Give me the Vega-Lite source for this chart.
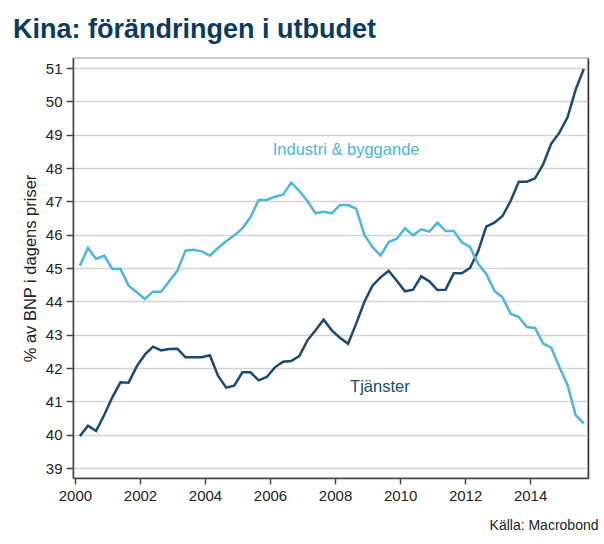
{
  "$schema": "https://vega.github.io/schema/vega-lite/v6.json",
  "width": 515,
  "height": 420,
  "autosize": {"type": "none"},
  "padding": {"left": 73, "top": 58, "right": 16, "bottom": 66},
  "background": "white",
  "config": {
    "font": "Liberation Sans",
    "view": {"stroke": "#b8b8b8", "strokeWidth": 1.5}
  },
  "title": {
    "text": "Kina: förändringen i utbudet",
    "anchor": "start",
    "frame": "group",
    "dx": -60,
    "dy": 27,
    "offset": 20,
    "baseline": "alphabetic",
    "fontSize": 27,
    "fontWeight": "bold",
    "color": "#0d3a5f"
  },
  "datasets": {
    "series": [
      {"t": 2000.15, "serie": "Tjänster", "v": 39.95},
      {"t": 2000.40, "serie": "Tjänster", "v": 40.27},
      {"t": 2000.65, "serie": "Tjänster", "v": 40.11},
      {"t": 2000.90, "serie": "Tjänster", "v": 40.59},
      {"t": 2001.15, "serie": "Tjänster", "v": 41.12},
      {"t": 2001.40, "serie": "Tjänster", "v": 41.57},
      {"t": 2001.65, "serie": "Tjänster", "v": 41.56},
      {"t": 2001.90, "serie": "Tjänster", "v": 42.05},
      {"t": 2002.15, "serie": "Tjänster", "v": 42.40},
      {"t": 2002.40, "serie": "Tjänster", "v": 42.64},
      {"t": 2002.65, "serie": "Tjänster", "v": 42.53},
      {"t": 2002.90, "serie": "Tjänster", "v": 42.57},
      {"t": 2003.15, "serie": "Tjänster", "v": 42.58},
      {"t": 2003.40, "serie": "Tjänster", "v": 42.32},
      {"t": 2003.65, "serie": "Tjänster", "v": 42.32},
      {"t": 2003.90, "serie": "Tjänster", "v": 42.32},
      {"t": 2004.15, "serie": "Tjänster", "v": 42.38},
      {"t": 2004.40, "serie": "Tjänster", "v": 41.77},
      {"t": 2004.65, "serie": "Tjänster", "v": 41.41},
      {"t": 2004.90, "serie": "Tjänster", "v": 41.47},
      {"t": 2005.15, "serie": "Tjänster", "v": 41.87},
      {"t": 2005.40, "serie": "Tjänster", "v": 41.87},
      {"t": 2005.65, "serie": "Tjänster", "v": 41.63},
      {"t": 2005.90, "serie": "Tjänster", "v": 41.73},
      {"t": 2006.15, "serie": "Tjänster", "v": 42.02},
      {"t": 2006.40, "serie": "Tjänster", "v": 42.19},
      {"t": 2006.65, "serie": "Tjänster", "v": 42.21},
      {"t": 2006.90, "serie": "Tjänster", "v": 42.36},
      {"t": 2007.15, "serie": "Tjänster", "v": 42.83},
      {"t": 2007.40, "serie": "Tjänster", "v": 43.13},
      {"t": 2007.65, "serie": "Tjänster", "v": 43.45},
      {"t": 2007.90, "serie": "Tjänster", "v": 43.13},
      {"t": 2008.15, "serie": "Tjänster", "v": 42.91},
      {"t": 2008.40, "serie": "Tjänster", "v": 42.73},
      {"t": 2008.65, "serie": "Tjänster", "v": 43.33},
      {"t": 2008.90, "serie": "Tjänster", "v": 43.98},
      {"t": 2009.15, "serie": "Tjänster", "v": 44.47},
      {"t": 2009.40, "serie": "Tjänster", "v": 44.72},
      {"t": 2009.65, "serie": "Tjänster", "v": 44.92},
      {"t": 2009.90, "serie": "Tjänster", "v": 44.62},
      {"t": 2010.15, "serie": "Tjänster", "v": 44.30},
      {"t": 2010.40, "serie": "Tjänster", "v": 44.35},
      {"t": 2010.65, "serie": "Tjänster", "v": 44.75},
      {"t": 2010.90, "serie": "Tjänster", "v": 44.60},
      {"t": 2011.15, "serie": "Tjänster", "v": 44.34},
      {"t": 2011.40, "serie": "Tjänster", "v": 44.35},
      {"t": 2011.65, "serie": "Tjänster", "v": 44.84},
      {"t": 2011.90, "serie": "Tjänster", "v": 44.84},
      {"t": 2012.15, "serie": "Tjänster", "v": 45.00},
      {"t": 2012.40, "serie": "Tjänster", "v": 45.50},
      {"t": 2012.65, "serie": "Tjänster", "v": 46.24},
      {"t": 2012.90, "serie": "Tjänster", "v": 46.36},
      {"t": 2013.15, "serie": "Tjänster", "v": 46.56},
      {"t": 2013.40, "serie": "Tjänster", "v": 47.01},
      {"t": 2013.65, "serie": "Tjänster", "v": 47.59},
      {"t": 2013.90, "serie": "Tjänster", "v": 47.59},
      {"t": 2014.15, "serie": "Tjänster", "v": 47.69},
      {"t": 2014.40, "serie": "Tjänster", "v": 48.11},
      {"t": 2014.65, "serie": "Tjänster", "v": 48.73},
      {"t": 2014.90, "serie": "Tjänster", "v": 49.06},
      {"t": 2015.15, "serie": "Tjänster", "v": 49.52},
      {"t": 2015.40, "serie": "Tjänster", "v": 50.35},
      {"t": 2015.65, "serie": "Tjänster", "v": 50.97},
      {"t": 2000.15, "serie": "Industri & byggande", "v": 45.07},
      {"t": 2000.40, "serie": "Industri & byggande", "v": 45.60},
      {"t": 2000.65, "serie": "Industri & byggande", "v": 45.27},
      {"t": 2000.90, "serie": "Industri & byggande", "v": 45.37},
      {"t": 2001.15, "serie": "Industri & byggande", "v": 44.97},
      {"t": 2001.40, "serie": "Industri & byggande", "v": 44.97},
      {"t": 2001.65, "serie": "Industri & byggande", "v": 44.47},
      {"t": 2001.90, "serie": "Industri & byggande", "v": 44.27},
      {"t": 2002.15, "serie": "Industri & byggande", "v": 44.07},
      {"t": 2002.40, "serie": "Industri & byggande", "v": 44.29},
      {"t": 2002.65, "serie": "Industri & byggande", "v": 44.29},
      {"t": 2002.90, "serie": "Industri & byggande", "v": 44.60},
      {"t": 2003.15, "serie": "Industri & byggande", "v": 44.92},
      {"t": 2003.40, "serie": "Industri & byggande", "v": 45.52},
      {"t": 2003.65, "serie": "Industri & byggande", "v": 45.55},
      {"t": 2003.90, "serie": "Industri & byggande", "v": 45.50},
      {"t": 2004.15, "serie": "Industri & byggande", "v": 45.37},
      {"t": 2004.40, "serie": "Industri & byggande", "v": 45.60},
      {"t": 2004.65, "serie": "Industri & byggande", "v": 45.80},
      {"t": 2004.90, "serie": "Industri & byggande", "v": 45.98},
      {"t": 2005.15, "serie": "Industri & byggande", "v": 46.19},
      {"t": 2005.40, "serie": "Industri & byggande", "v": 46.53},
      {"t": 2005.65, "serie": "Industri & byggande", "v": 47.04},
      {"t": 2005.90, "serie": "Industri & byggande", "v": 47.04},
      {"t": 2006.15, "serie": "Industri & byggande", "v": 47.14},
      {"t": 2006.40, "serie": "Industri & byggande", "v": 47.20},
      {"t": 2006.65, "serie": "Industri & byggande", "v": 47.56},
      {"t": 2006.90, "serie": "Industri & byggande", "v": 47.31},
      {"t": 2007.15, "serie": "Industri & byggande", "v": 47.01},
      {"t": 2007.40, "serie": "Industri & byggande", "v": 46.64},
      {"t": 2007.65, "serie": "Industri & byggande", "v": 46.69},
      {"t": 2007.90, "serie": "Industri & byggande", "v": 46.64},
      {"t": 2008.15, "serie": "Industri & byggande", "v": 46.89},
      {"t": 2008.40, "serie": "Industri & byggande", "v": 46.89},
      {"t": 2008.65, "serie": "Industri & byggande", "v": 46.78},
      {"t": 2008.90, "serie": "Industri & byggande", "v": 46.00},
      {"t": 2009.15, "serie": "Industri & byggande", "v": 45.63},
      {"t": 2009.40, "serie": "Industri & byggande", "v": 45.37},
      {"t": 2009.65, "serie": "Industri & byggande", "v": 45.78},
      {"t": 2009.90, "serie": "Industri & byggande", "v": 45.88},
      {"t": 2010.15, "serie": "Industri & byggande", "v": 46.19},
      {"t": 2010.40, "serie": "Industri & byggande", "v": 45.98},
      {"t": 2010.65, "serie": "Industri & byggande", "v": 46.16},
      {"t": 2010.90, "serie": "Industri & byggande", "v": 46.09},
      {"t": 2011.15, "serie": "Industri & byggande", "v": 46.36},
      {"t": 2011.40, "serie": "Industri & byggande", "v": 46.11},
      {"t": 2011.65, "serie": "Industri & byggande", "v": 46.11},
      {"t": 2011.90, "serie": "Industri & byggande", "v": 45.77},
      {"t": 2012.15, "serie": "Industri & byggande", "v": 45.63},
      {"t": 2012.40, "serie": "Industri & byggande", "v": 45.13},
      {"t": 2012.65, "serie": "Industri & byggande", "v": 44.82},
      {"t": 2012.90, "serie": "Industri & byggande", "v": 44.32},
      {"t": 2013.15, "serie": "Industri & byggande", "v": 44.12},
      {"t": 2013.40, "serie": "Industri & byggande", "v": 43.63},
      {"t": 2013.65, "serie": "Industri & byggande", "v": 43.53},
      {"t": 2013.90, "serie": "Industri & byggande", "v": 43.23},
      {"t": 2014.15, "serie": "Industri & byggande", "v": 43.20},
      {"t": 2014.40, "serie": "Industri & byggande", "v": 42.73},
      {"t": 2014.65, "serie": "Industri & byggande", "v": 42.61},
      {"t": 2014.90, "serie": "Industri & byggande", "v": 42.03},
      {"t": 2015.15, "serie": "Industri & byggande", "v": 41.49},
      {"t": 2015.40, "serie": "Industri & byggande", "v": 40.59},
      {"t": 2015.65, "serie": "Industri & byggande", "v": 40.34}
    ],
    "labels": [
      {"t": 2008.34, "v": 48.54, "serie": "Industri & byggande", "label": "Industri & byggande"},
      {"t": 2009.38, "v": 41.43, "serie": "Tjänster", "label": "Tjänster"}
    ]
  },
  "resolve": {"axis": {"y": "independent"}},
  "layer": [
    {
      "data": {"name": "series"},
      "mark": {"type": "line", "strokeWidth": 2.5, "strokeJoin": "miter", "interpolate": "linear"},
      "encoding": {
        "x": {
          "field": "t",
          "type": "quantitative",
          "scale": {"domain": [1999.94, 2015.78], "nice": false, "zero": false},
          "axis": {
            "values": [2000, 2002, 2004, 2006, 2008, 2010, 2012, 2014],
            "format": "d",
            "grid": false,
            "domainColor": "#444",
            "domainWidth": 1.5,
            "tickColor": "#444",
            "tickWidth": 1.5,
            "tickSize": 6,
            "labelFontSize": 15,
            "labelColor": "#222",
            "labelPadding": 4,
            "title": "Källa: Macrobond",
            "titleFontSize": 14,
            "titleFontWeight": "normal",
            "titleColor": "#222",
            "titleAnchor": "end",
            "titleAlign": "right",
            "titleBaseline": "alphabetic",
            "titleX": 525,
            "titleY": 51
          }
        },
        "y": {
          "field": "v",
          "type": "quantitative",
          "scale": {"domain": [38.7, 51.3], "nice": false, "zero": false},
          "axis": {
            "orient": "left",
            "values": [39, 40, 41, 42, 43, 44, 45, 46, 47, 48, 49, 50, 51],
            "grid": true,
            "gridColor": "#d3d3d3",
            "gridWidth": 1.5,
            "domainColor": "#444",
            "domainWidth": 1.5,
            "tickColor": "#444",
            "tickWidth": 1.5,
            "tickSize": 7,
            "labelFontSize": 15,
            "labelColor": "#222",
            "labelPadding": 4,
            "title": "% av BNP i dagens priser",
            "titleFontSize": 16.5,
            "titleFontWeight": "normal",
            "titleColor": "#222",
            "titlePadding": 7
          }
        },
        "color": {
          "field": "serie",
          "type": "nominal",
          "scale": {"domain": ["Industri & byggande", "Tjänster"], "range": ["#4cb6dc", "#1b4a70"]},
          "legend": null
        }
      }
    },
    {
      "data": {"name": "labels"},
      "mark": {"type": "text", "fontSize": 16.5, "align": "center", "baseline": "middle"},
      "encoding": {
        "x": {"field": "t", "type": "quantitative"},
        "y": {
          "field": "v",
          "type": "quantitative",
          "axis": {"orient": "right", "labels": false, "ticks": false, "grid": false, "title": null, "domainColor": "#333", "domainWidth": 1.5}
        },
        "text": {"field": "label"},
        "color": {"field": "serie", "type": "nominal", "legend": null}
      }
    }
  ]
}
